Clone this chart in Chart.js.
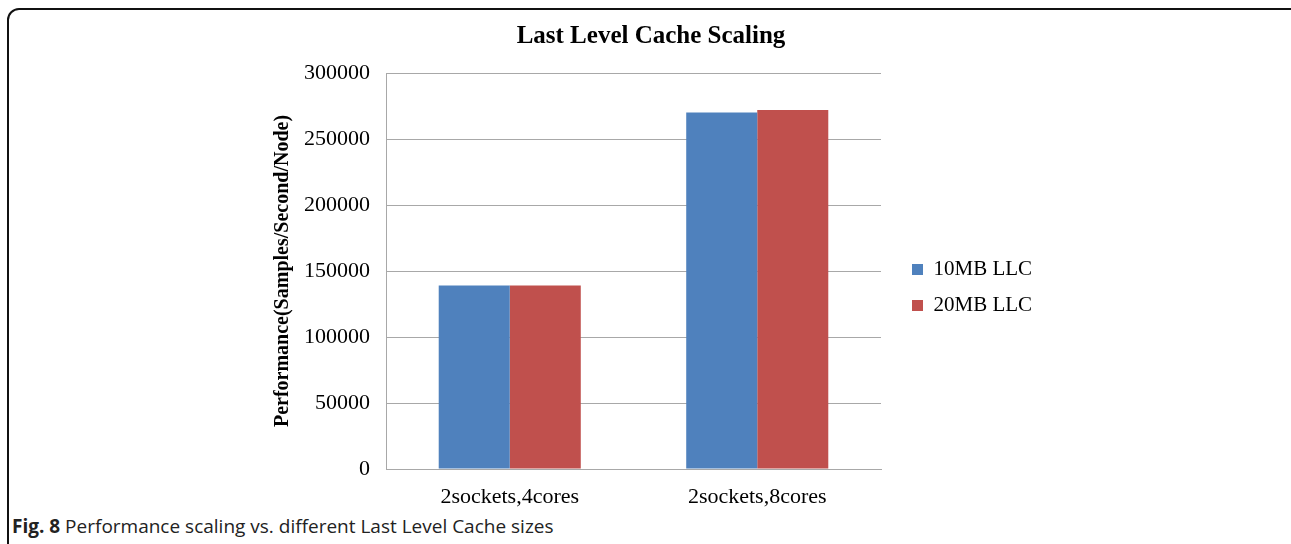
<!DOCTYPE html>
<html>
<head>
<meta charset="utf-8">
<script src="https://cdn.jsdelivr.net/npm/chart.js@4.4.1/dist/chart.umd.min.js"></script>
<style>
  html, body { margin: 0; padding: 0; background: #fff; overflow: hidden; }
  body { width: 1291px; height: 544px; position: relative; }
  #frame {
    position: absolute; left: 7px; top: 8px; width: 1310px; height: 570px;
    border: 2px solid #111; border-radius: 12px; box-sizing: border-box;
  }
  #chart { position: absolute; left: 0; top: 0; }
  #caption {
    position: absolute; left: 12px; top: 513px;
    font-family: "Open Sans", sans-serif; font-size: 19px; color: #222;
    white-space: nowrap;
  }
  #caption b { font-weight: 700; }
</style>
</head>
<body>
<div id="frame"></div>
<canvas id="chart" width="1291" height="510"></canvas>
<div id="caption"><b>Fig. 8</b> Performance scaling vs. different Last Level Cache sizes</div>
<script>
// data
var categories = ['2sockets,4cores', '2sockets,8cores'];
var llc10 = [139000, 270000];
var llc20 = [139000, 272000];
var seriesNames = ['10MB LLC', '20MB LLC'];
var yTicks = [0, 50000, 100000, 150000, 200000, 250000, 300000];

var serif = '"Liberation Serif", "Times New Roman", serif';
var gridColor = '#a8a8a8';

var ctx = document.getElementById('chart').getContext('2d');
var chart = new Chart(ctx, {
    type: 'bar',
    data: {
        labels: categories,
        datasets: [{
            label: seriesNames[0],
            data: llc10,
            backgroundColor: '#4F81BD',
            borderWidth: 0
        }, {
            label: seriesNames[1],
            data: llc20,
            backgroundColor: '#C0504D',
            borderWidth: 0
        }]
    },
    options: {
        responsive: false,
        animation: false,
        datasets: {
            bar: { categoryPercentage: 0.574, barPercentage: 1 }
        },
        layout: {
            padding: { left: 267, right: 256, top: 0, bottom: 1 }
        },
        plugins: {
            title: {
                display: true,
                text: 'Last Level Cache Scaling',
                color: '#000',
                font: { family: serif, size: 25, weight: 'bold', lineHeight: 1.2 },
                padding: { top: 22, bottom: 21 }
            },
            legend: {
                position: 'right',
                maxWidth: 138,
                title: {
                    // empty title only pushes the entries down a bit
                    display: true,
                    text: ' ',
                    font: { size: 10, lineHeight: 1 },
                    padding: 28
                },
                labels: {
                    color: '#000',
                    boxWidth: 11,
                    boxHeight: 11,
                    padding: 15,
                    font: { family: serif, size: 21, lineHeight: 1.2 }
                }
            },
            tooltip: { enabled: false }
        },
        scales: {
            x: {
                grid: { display: false, drawTicks: false },
                border: { color: gridColor },
                ticks: {
                    color: '#000',
                    padding: 15,
                    font: { family: serif, size: 22 }
                },
                afterFit: function(scale) { scale.height = 40; }
            },
            y: {
                min: 0,
                max: 300000,
                afterBuildTicks: function(scale) {
                    scale.ticks = yTicks.map(function(v) { return { value: v }; });
                },
                grid: { color: gridColor, drawTicks: false },
                border: { color: gridColor },
                ticks: {
                    color: '#000',
                    padding: 16,
                    font: { family: serif, size: 22 },
                    callback: function(value) { return String(value); }
                },
                title: {
                    display: true,
                    text: 'Performance(Samples/Second/Node)',
                    color: '#000',
                    font: { family: serif, size: 20, weight: 'bold', lineHeight: 1.2 },
                    padding: { top: 4, bottom: 4 }
                },
                afterFit: function(scale) { scale.width = 119; }
            },
            // spacer between plot and legend
            gap: {
                position: 'right',
                display: true,
                grid: { display: false, drawTicks: false },
                border: { display: false },
                ticks: { display: false },
                afterFit: function(scale) { scale.width = 16; }
            }
        }
    }
});
</script>
</body>
</html>
